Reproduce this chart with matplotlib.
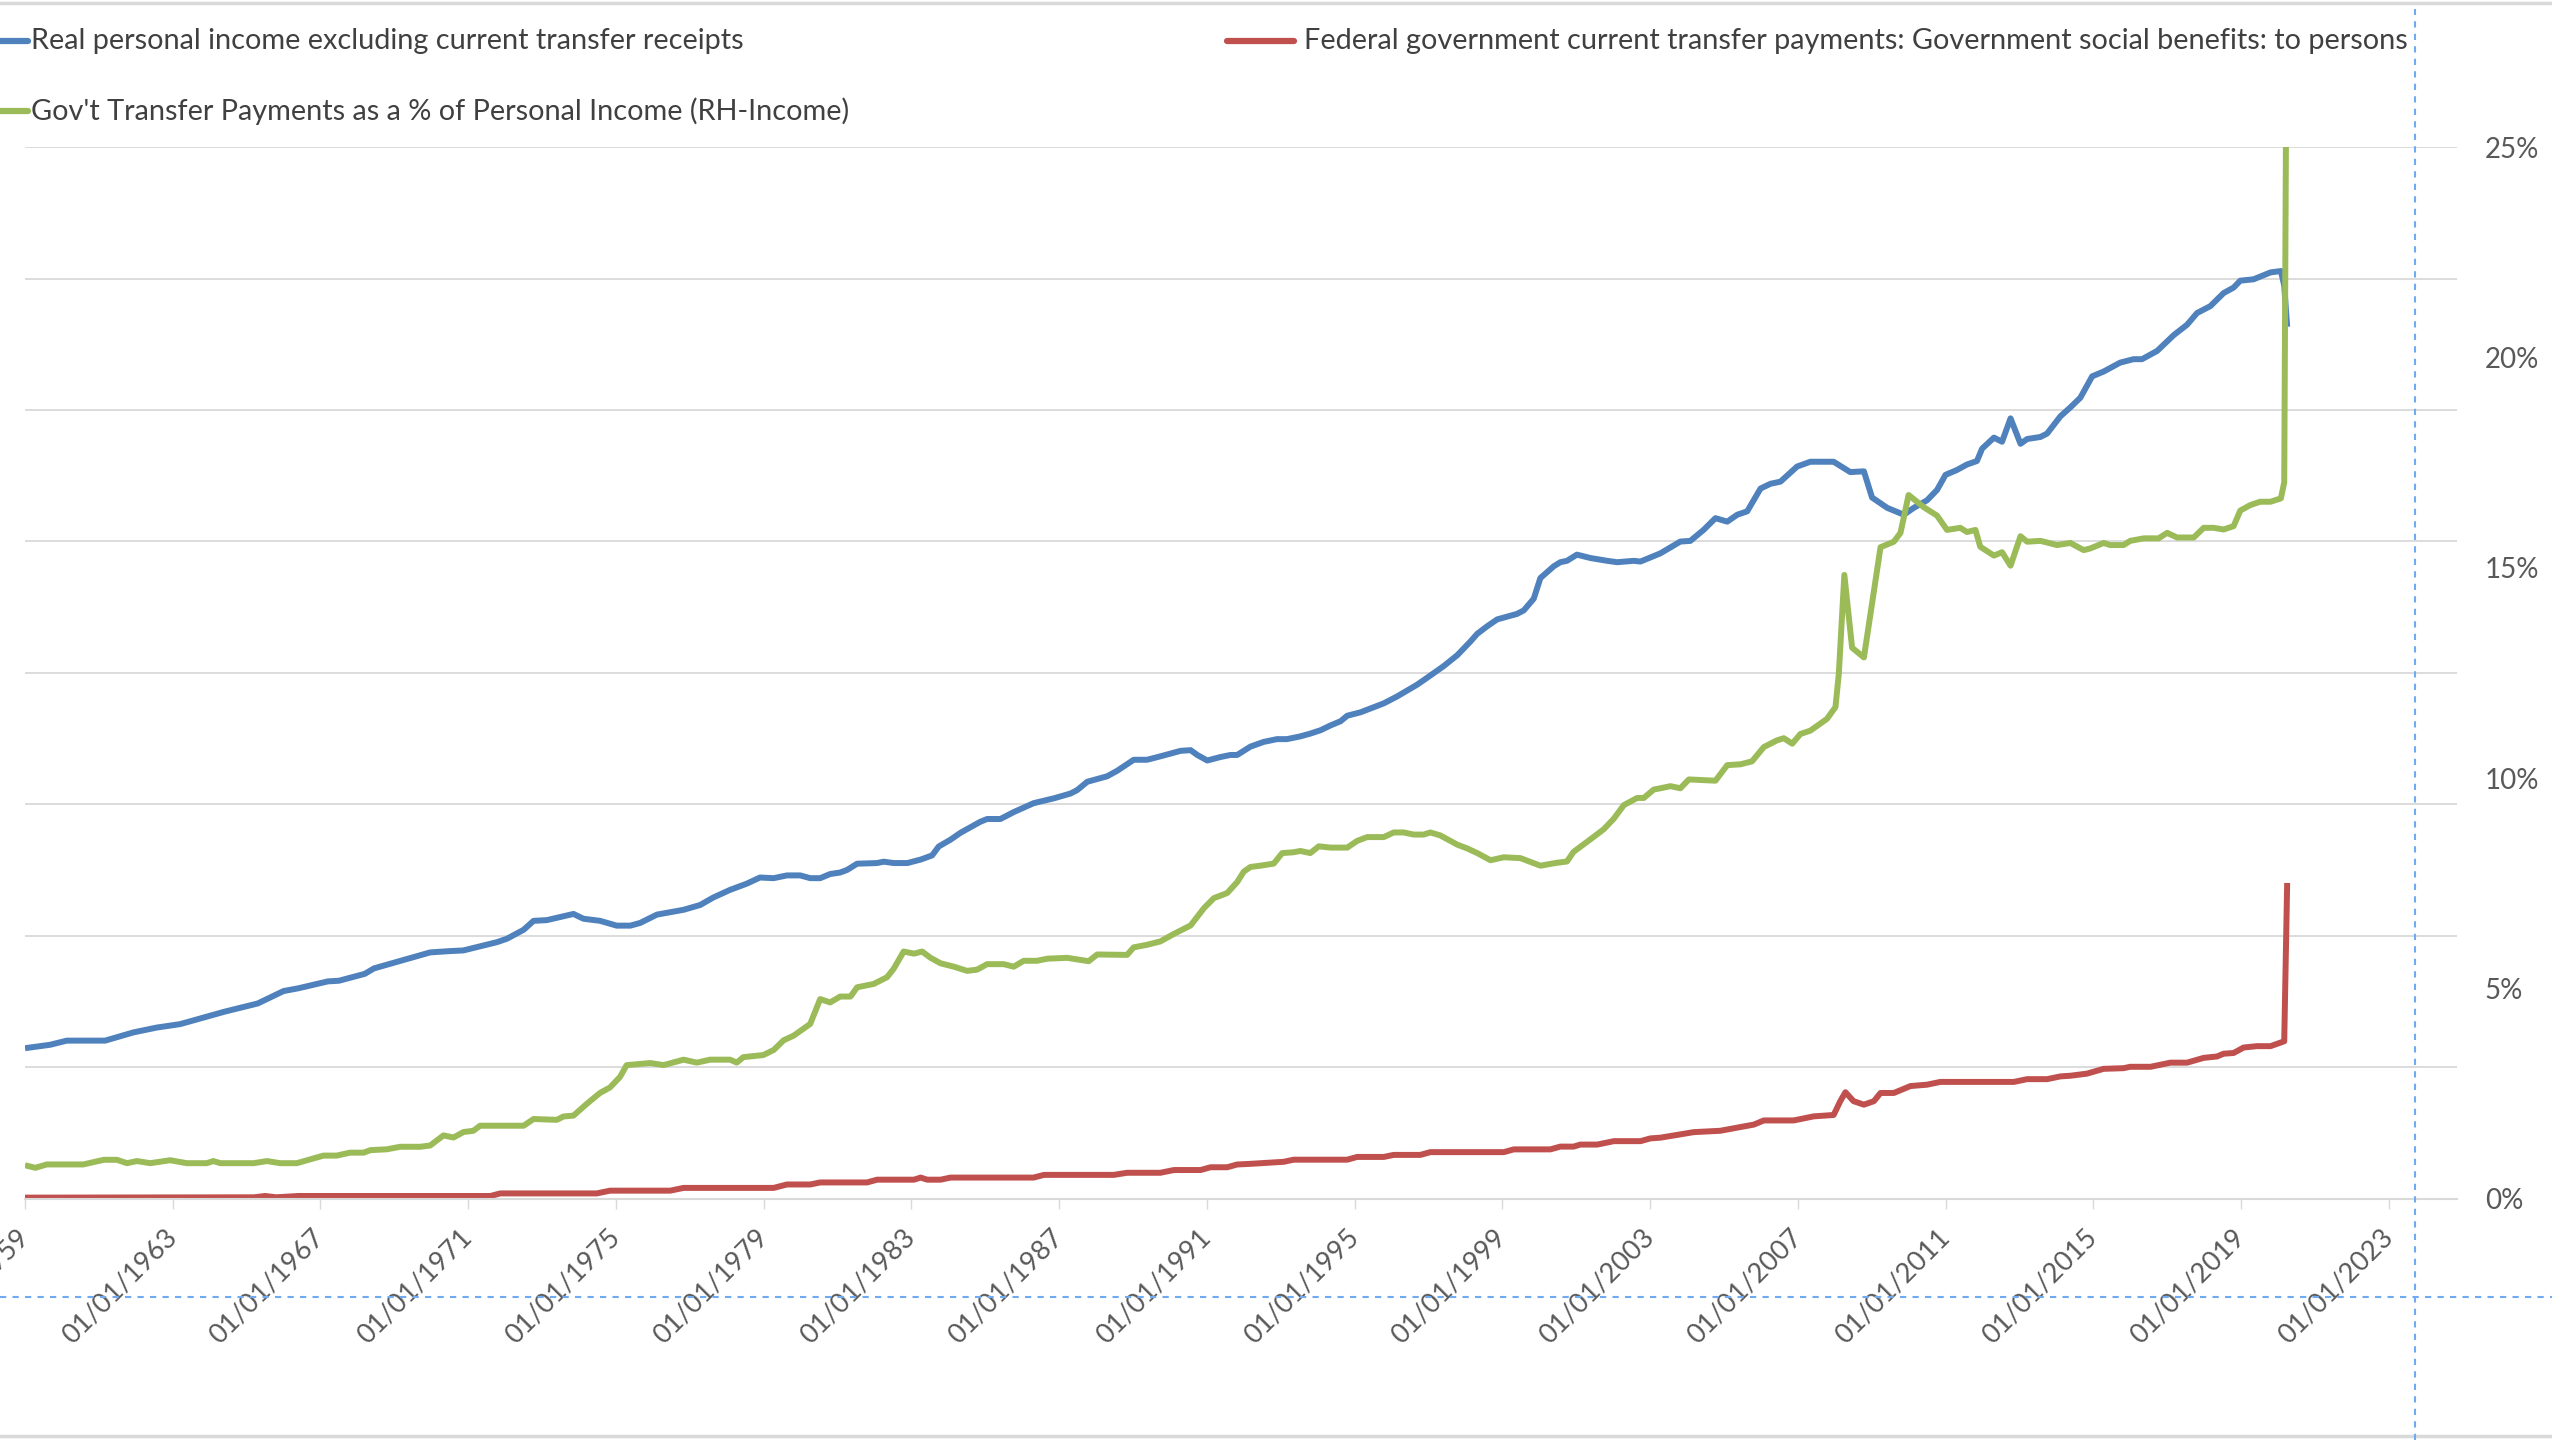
import matplotlib.pyplot as plt
from matplotlib.lines import Line2D

plt.rcParams["font.family"] = ["Lato", "DejaVu Sans"]

# decimal years, values
blue_years = [1959.0, 1959.68, 1960.13, 1961.17, 1961.94, 1962.57, 1963.2, 1964.4, 1965.3, 1966.0,
              1966.4, 1967.2, 1967.5, 1968.2, 1968.45, 1969.97, 1970.51, 1970.87, 1971.32, 1971.78,
              1972.05, 1972.5, 1972.77, 1973.13, 1973.85, 1974.12, 1974.57, 1975.02, 1975.39, 1975.66,
              1976.11, 1976.83, 1977.28, 1977.64, 1978.09, 1978.54, 1978.9, 1979.27, 1979.63, 1979.99,
              1980.26, 1980.53, 1980.8, 1981.07, 1981.26, 1981.53, 1982.07, 1982.25, 1982.52, 1982.89,
              1983.25, 1983.56, 1983.74, 1984.06, 1984.33, 1984.87, 1985.05, 1985.41, 1985.77, 1986.31,
              1986.86, 1987.31, 1987.49, 1987.76, 1988.3, 1988.57, 1989.02, 1989.38, 1989.74, 1990.29,
              1990.56, 1990.74, 1991.01, 1991.37, 1991.64, 1991.82, 1992.18, 1992.54, 1992.9, 1993.17,
              1993.53, 1993.8, 1994.08, 1994.35, 1994.62, 1994.8, 1995.16, 1995.79, 1996.15, 1996.69,
              1996.96, 1997.41, 1997.78, 1998.14, 1998.32, 1998.59, 1998.86, 1999.4, 1999.58, 1999.85,
              2000.03, 2000.39, 2000.57, 2000.75, 2001.02, 2001.39, 2001.84, 2002.11, 2002.56, 2002.74,
              2003.01, 2003.28, 2003.82, 2004.09, 2004.45, 2004.77, 2005.09, 2005.36, 2005.63, 2005.99,
              2006.26, 2006.53, 2006.98, 2007.34, 2007.97, 2008.42, 2008.79, 2009.01, 2009.42, 2009.87,
              2010.14, 2010.5, 2010.77, 2011.0, 2011.31, 2011.58, 2011.85, 2011.99, 2012.31, 2012.53,
              2012.76, 2013.03, 2013.21, 2013.57, 2013.75, 2014.11, 2014.38, 2014.65, 2014.97, 2015.28,
              2015.73, 2016.09, 2016.32, 2016.73, 2017.18, 2017.54, 2017.81, 2018.17, 2018.53, 2018.8,
              2018.98, 2019.34, 2019.8, 2020.08, 2020.17, 2020.25]
blue_vals = [2293, 2345, 2408, 2408, 2534, 2607, 2659, 2848, 2973, 3162,
             3204, 3309, 3319, 3424, 3507, 3750, 3770, 3780, 3843, 3906,
             3958, 4094, 4230, 4241, 4335, 4262, 4230, 4157, 4157, 4199,
             4325, 4398, 4471, 4586, 4701, 4795, 4889, 4879, 4921, 4921,
             4879, 4879, 4942, 4965, 5005, 5099, 5109, 5130, 5109, 5109,
             5162, 5225, 5361, 5465, 5570, 5738, 5779, 5779, 5884, 6020,
             6094, 6167, 6219, 6345, 6429, 6512, 6680, 6680, 6732, 6816,
             6826, 6753, 6669, 6722, 6753, 6753, 6880, 6952, 6994, 6994,
             7036, 7078, 7130, 7203, 7266, 7350, 7402, 7538, 7643, 7821,
             7926, 8104, 8271, 8481, 8596, 8711, 8815, 8899, 8952, 9130,
             9444, 9622, 9685, 9706, 9800, 9748, 9706, 9685, 9706, 9695,
             9758, 9820, 9999, 10009, 10177, 10355, 10302, 10407, 10459, 10805,
             10878, 10910, 11140, 11213, 11213, 11056, 11067, 10669, 10512, 10407,
             10512, 10627, 10784, 11014, 11088, 11171, 11224, 11412, 11580, 11517,
             11873, 11486, 11559, 11590, 11642, 11904, 12040, 12187, 12512, 12585,
             12721, 12773, 12773, 12899, 13140, 13297, 13475, 13580, 13779, 13862,
             13967, 13988, 14093, 14114, 13894, 13266]

red_years = [1959.0, 1965.2, 1965.5, 1965.8, 1966.4, 1971.6, 1971.87, 1974.48, 1974.84, 1976.47,
             1976.83, 1979.27, 1979.63, 1980.26, 1980.53, 1981.8, 1982.07, 1983.07, 1983.25, 1983.43,
             1983.79, 1984.06, 1986.31, 1986.59, 1988.48, 1988.84, 1989.74, 1990.11, 1990.83, 1991.1,
             1991.55, 1991.82, 1992.18, 1993.08, 1993.35, 1994.8, 1995.07, 1995.79, 1996.06, 1996.78,
             1997.05, 1999.04, 1999.31, 2000.3, 2000.57, 2000.93, 2001.11, 2001.57, 2002.02, 2002.74,
             2003.01, 2003.28, 2004.18, 2004.9, 2005.81, 2006.08, 2006.89, 2007.43, 2007.97, 2008.15,
             2008.29, 2008.51, 2008.79, 2009.06, 2009.24, 2009.6, 2010.05, 2010.5, 2010.86, 2012.85,
             2013.21, 2013.75, 2014.11, 2014.38, 2014.83, 2015.28, 2015.82, 2016.0, 2016.55, 2017.09,
             2017.54, 2017.99, 2018.35, 2018.53, 2018.8, 2019.07, 2019.43, 2019.8, 2020.17, 2020.25]
red_vals = [20, 25, 45, 25, 45, 45, 84, 84, 126, 126,
            168, 168, 220, 220, 251, 251, 293, 293, 325, 293,
            293, 325, 325, 366, 366, 398, 398, 440, 440, 482,
            482, 524, 534, 565, 597, 597, 639, 639, 670, 670,
            712, 712, 754, 754, 796, 796, 827, 827, 879, 879,
            921, 932, 1016, 1037, 1131, 1194, 1194, 1256, 1277, 1487,
            1623, 1487, 1434, 1487, 1612, 1612, 1717, 1738, 1780, 1780,
            1822, 1822, 1864, 1874, 1906, 1979, 1989, 2010, 2010, 2073,
            2073, 2146, 2167, 2209, 2220, 2303, 2324, 2324, 2398, 4806]

green_years = [1959.0, 1959.28, 1959.59, 1960.58, 1961.13, 1961.49, 1961.76, 1962.03, 1962.39, 1962.93,
               1963.38, 1963.92, 1964.1, 1964.29, 1965.19, 1965.55, 1965.91, 1966.36, 1967.08, 1967.44,
               1967.8, 1968.17, 1968.35, 1968.8, 1969.16, 1969.7, 1969.97, 1970.33, 1970.6, 1970.87,
               1971.14, 1971.32, 1972.5, 1972.77, 1973.4, 1973.58, 1973.85, 1974.21, 1974.57, 1974.84,
               1975.11, 1975.29, 1975.93, 1976.29, 1976.83, 1977.19, 1977.55, 1978.09, 1978.27, 1978.45,
               1978.99, 1979.27, 1979.54, 1979.81, 1980.26, 1980.53, 1980.8, 1981.07, 1981.35, 1981.53,
               1981.98, 1982.34, 1982.52, 1982.79, 1983.07, 1983.29, 1983.52, 1983.79, 1984.15, 1984.51,
               1984.78, 1985.05, 1985.5, 1985.77, 1986.04, 1986.4, 1986.68, 1987.22, 1987.58, 1987.8,
               1988.03, 1988.84, 1989.02, 1989.38, 1989.74, 1990.11, 1990.56, 1990.92, 1991.19, 1991.55,
               1991.82, 1992.0, 1992.18, 1992.45, 1992.81, 1993.04, 1993.35, 1993.53, 1993.8, 1994.03,
               1994.35, 1994.8, 1995.07, 1995.34, 1995.79, 1996.06, 1996.33, 1996.6, 1996.87, 1997.05,
               1997.32, 1997.78, 1998.05, 1998.32, 1998.68, 1999.04, 1999.49, 2000.03, 2000.48, 2000.75,
               2000.93, 2001.39, 2001.75, 2002.02, 2002.29, 2002.65, 2002.83, 2003.1, 2003.28, 2003.55,
               2003.82, 2004.05, 2004.77, 2005.09, 2005.45, 2005.76, 2006.08, 2006.44, 2006.62, 2006.85,
               2007.07, 2007.34, 2007.79, 2008.02, 2008.11, 2008.26, 2008.47, 2008.79, 2009.24, 2009.6,
               2009.78, 2010.0, 2010.41, 2010.77, 2011.04, 2011.4, 2011.58, 2011.81, 2011.94, 2012.31,
               2012.53, 2012.76, 2013.03, 2013.21, 2013.57, 2014.02, 2014.38, 2014.74, 2014.92, 2015.28,
               2015.46, 2015.82, 2016.0, 2016.37, 2016.77, 2017.0, 2017.27, 2017.72, 2017.99, 2018.26,
               2018.53, 2018.8, 2018.98, 2019.25, 2019.52, 2019.8, 2020.08, 2020.17, 2020.25]
green_pct = [0.80, 0.74, 0.82, 0.82, 0.93, 0.93, 0.85, 0.90, 0.85, 0.92,
             0.85, 0.85, 0.90, 0.85, 0.85, 0.90, 0.85, 0.85, 1.03, 1.03,
             1.10, 1.10, 1.16, 1.18, 1.24, 1.24, 1.27, 1.51, 1.46, 1.59,
             1.62, 1.74, 1.74, 1.90, 1.88, 1.96, 1.98, 2.26, 2.52, 2.65,
             2.90, 3.18, 3.23, 3.18, 3.31, 3.24, 3.31, 3.31, 3.24, 3.37,
             3.42, 3.54, 3.77, 3.88, 4.16, 4.75, 4.67, 4.81, 4.81, 5.03,
             5.11, 5.27, 5.47, 5.88, 5.83, 5.88, 5.73, 5.60, 5.52, 5.42,
             5.45, 5.58, 5.58, 5.52, 5.66, 5.66, 5.71, 5.73, 5.68, 5.65,
             5.81, 5.80, 5.98, 6.04, 6.12, 6.30, 6.50, 6.91, 7.15, 7.27,
             7.53, 7.78, 7.89, 7.92, 7.97, 8.22, 8.24, 8.27, 8.22, 8.38,
             8.35, 8.35, 8.51, 8.60, 8.60, 8.71, 8.71, 8.66, 8.66, 8.71,
             8.64, 8.42, 8.33, 8.22, 8.05, 8.12, 8.10, 7.92, 7.99, 8.02,
             8.25, 8.55, 8.79, 9.04, 9.36, 9.53, 9.53, 9.73, 9.76, 9.81,
             9.76, 9.97, 9.94, 10.31, 10.33, 10.40, 10.74, 10.90, 10.95, 10.82,
             11.05, 11.13, 11.41, 11.69, 12.48, 14.83, 13.10, 12.87, 15.49, 15.62,
             15.83, 16.73, 16.44, 16.24, 15.90, 15.95, 15.85, 15.90, 15.50, 15.29,
             15.37, 15.05, 15.75, 15.62, 15.64, 15.54, 15.59, 15.42, 15.46, 15.59,
             15.54, 15.54, 15.64, 15.70, 15.70, 15.83, 15.72, 15.72, 15.95, 15.95,
             15.91, 15.99, 16.36, 16.49, 16.57, 16.57, 16.65, 17.03, 31.0]

tick_years = list(range(1959, 2024, 4))
tick_labels = ["01/01/%d" % y for y in tick_years]
pct_ticks = [0, 5, 10, 15, 20, 25]
pct_labels = ["%d%%" % p for p in pct_ticks]

BLUE = "#4F81BD"
RED = "#C0504D"
GREEN = "#9BBB59"
GRID = "#D9D9D9"

fig = plt.figure(figsize=(25.52, 14.4), dpi=100)
ax = fig.add_axes([0.0098, 0.1674, 0.953, 0.7305])
ax2 = ax.twinx()

ax.plot(blue_years, blue_vals, color=BLUE, linewidth=4.3, solid_joinstyle="round", solid_capstyle="butt")
ax.plot(red_years, red_vals, color=RED, linewidth=4.3, solid_joinstyle="round", solid_capstyle="butt")
ax2.plot(green_years, [p / 100 for p in green_pct], color=GREEN, linewidth=4.3,
         solid_joinstyle="round", solid_capstyle="butt")

ax.set_xlim(1959, 2024.85)
ax.set_ylim(0, 16000)
ax.set_yticks(range(0, 16001, 2000))
ax.tick_params(axis="y", length=0, labelleft=False)
ax.grid(axis="y", color=GRID, linewidth=1.3)
ax.set_axisbelow(True)

ax.set_xticks(tick_years)
ax.set_xticklabels(tick_labels, rotation=45, ha="right", va="center", rotation_mode="anchor")
ax.tick_params(axis="x", length=7, width=1, color=GRID, pad=18, labelsize=19.5, labelcolor="#595959")

for s in ["top", "left", "right"]:
    ax.spines[s].set_visible(False)
    ax2.spines[s].set_visible(False)
ax2.spines["bottom"].set_visible(False)
ax.spines["bottom"].set_color(GRID)
ax.spines["bottom"].set_linewidth(1.5)

ax2.set_ylim(0, 0.25)
ax2.set_yticks([p / 100 for p in pct_ticks])
ax2.set_yticklabels(pct_labels)
ax2.tick_params(axis="y", length=0, pad=20, labelsize=20, labelcolor="#595959")

# legend entries laid out like the Excel legend
legend_rows = [
    (BLUE, -0.02, 0.0109, 0.0121, 0.9717, "Real personal income excluding current transfer receipts"),
    (RED, 0.4808, 0.5071, 0.5110, 0.9717,
     "Federal government current transfer payments: Government social benefits: to persons"),
    (GREEN, -0.02, 0.0109, 0.0121, 0.9231, "Gov't Transfer Payments as a % of Personal Income (RH-Income)"),
]
for color, x0, x1, tx, ty, label in legend_rows:
    fig.add_artist(Line2D([x0, x1], [ty, ty], color=color, linewidth=4.5, solid_capstyle="round"))
    fig.text(tx, ty, label, fontsize=20.8, color="#404040", va="center", ha="left")

# chart border and selection guides
fig.add_artist(Line2D([0, 1], [0.998, 0.998], color=GRID, linewidth=2.5))
fig.add_artist(Line2D([0, 1], [0.0031, 0.0031], color=GRID, linewidth=2.5))
fig.add_artist(Line2D([0.9463, 0.9463], [0, 0.994], color="#6FAAF2", linewidth=1.5,
                      linestyle=(0, (3, 3)), zorder=10))
fig.add_artist(Line2D([0, 1], [0.0993, 0.0993], color="#6FAAF2", linewidth=1.5,
                      linestyle=(0, (3, 3)), zorder=10))

fig.savefig("out.png", dpi=100, facecolor="white")
